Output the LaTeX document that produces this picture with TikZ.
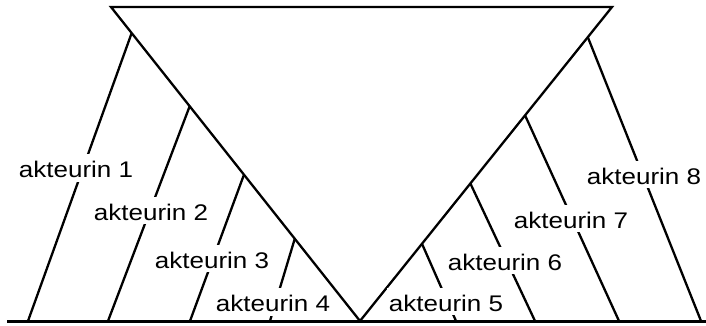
\documentclass[tikz,border=0pt]{standalone}
\usepackage{fontspec}
\setmainfont{Liberation Sans}
\usetikzlibrary{calc}
\tikzset{
  edge/.style={line width=2.3pt, line join=miter},
  ground/.style={line width=3.3pt},
  lbl/.style={fill=white, inner xsep=1.5pt, inner ysep=0pt, text height=23.5pt, text depth=4pt, anchor=base,
    font=\fontsize{22.6pt}{26pt}\selectfont}
}
\newcommand{\akt}[1]{\scalebox{1.15}[1]{akteurin #1}}
\begin{document}
\begin{tikzpicture}[x=1pt,y=-1pt]
\useasboundingbox (0,0) rectangle (706,325);
\coordinate (T1) at (111,7);
\coordinate (T2) at (612,7);
\coordinate (V) at (360,321);
\draw[edge] (T1) -- (T2) -- (V) -- cycle;
% attachment points on the triangle
\coordinate (a1) at ($(T1)!0.083!(V)$);
\coordinate (a2) at ($(T1)!0.316!(V)$);
\coordinate (a3) at ($(T1)!0.534!(V)$);
\coordinate (a4) at ($(T1)!0.738!(V)$);
\coordinate (a5) at ($(T2)!0.754!(V)$);
\coordinate (a6) at ($(T2)!0.562!(V)$);
\coordinate (a7) at ($(T2)!0.345!(V)$);
\coordinate (a8) at ($(T2)!0.096!(V)$);
% foot points on the ground line
\coordinate (b1) at (28,321);
\coordinate (b2) at (108,321);
\coordinate (b3) at (190,321);
\coordinate (b4) at (270,321);
\coordinate (b5) at (456,321);
\coordinate (b6) at (535,321);
\coordinate (b7) at (619,321);
\coordinate (b8) at (701,321);
\foreach \i in {1,...,8} { \draw[edge] (a\i) -- (b\i); }
% labels
\node[lbl] (l1) at (76,177.7) {\akt{1}};
\node[lbl] (l2) at (151,220) {\akt{2}};
\node[lbl] (l3) at (212,268) {\akt{3}};
\node[lbl] (l4) at (273,311.5) {\akt{4}};
\node[lbl] (l5) at (446,311) {\akt{5}};
\node[lbl] (l6) at (505,270) {\akt{6}};
\node[lbl] (l7) at (571,228) {\akt{7}};
\node[lbl] (l8) at (644,184) {\akt{8}};
% ground line
\coordinate (g0) at (7,321.3);
\coordinate (g1) at (706,321.3);
\draw[ground] (g0) -- (g1);
\end{tikzpicture}
\end{document}
